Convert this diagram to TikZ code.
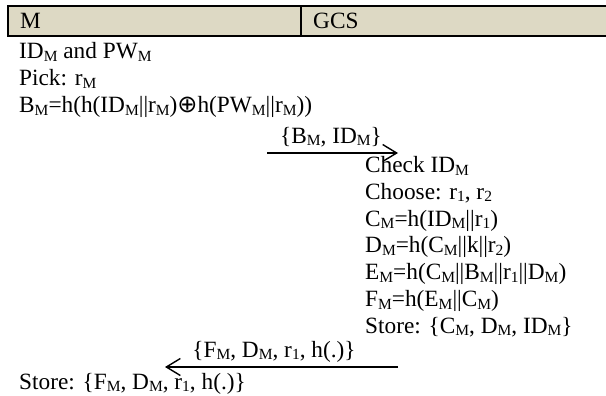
\documentclass[tikz,border=0pt]{standalone}
\usepackage{fontspec}
\setmainfont{Liberation Serif}
\newfontfamily\symfont{DejaVu Sans}
\usetikzlibrary{arrows.meta}
\newcommand{\sbs}[1]{\raisebox{-0.11em}{\fontsize{15.5}{15.5}\selectfont #1}}
\newcommand{\xor}{{\symfont\fontsize{24}{24}\selectfont ⊕}}
\begin{document}
\begin{tikzpicture}[x=1pt,y=-1pt,
  txt/.style={anchor=base west,inner sep=0pt,font=\fontsize{23.3}{26}\selectfont},
  msg/.style={anchor=base,inner sep=0pt,font=\fontsize{23.3}{26}\selectfont},
  arr/.style={line width=1.4pt,-{Straight Barb[length=14pt,width=17pt,line width=1.4pt]}}]
\useasboundingbox (0,0) rectangle (606,396);
\fill[fill={rgb,255:red,221;green,217;blue,196}] (7.5,6) rectangle (610,36);
\draw[line width=2pt] (610,6) -- (7.5,6) -- (7.5,36) -- (610,36);
\draw[line width=1.5pt] (301,6) -- (301,36);
\node[txt] (hM) at (20,28.5) {M};
\node[txt] (hG) at (313,28.5) {GCS};
% left column
\node[txt] (l1) at (19,59) {ID\sbs{M} and PW\sbs{M}};
\node[txt] (l2) at (19,85.8) {Pick: r\sbs{M}};
\node[txt] (l3) at (19,112.6) {B\sbs{M}=h(h(ID\sbs{M}||r\sbs{M})\xor h(PW\sbs{M}||r\sbs{M}))};
% first message
\coordinate (a1s) at (267,153);
\coordinate (a1e) at (398,153);
\draw[arr] (a1s) -- (a1e);
\node[msg] (m1) at (331,143) {\{B\sbs{M}, ID\sbs{M}\}};
% right column
\node[txt] (r1) at (365,172.5) {Check ID\sbs{M}};
\node[txt] (r2) at (365,199.3) {Choose: r\sbs{1}, r\sbs{2}};
\node[txt] (r3) at (365,226.1) {C\sbs{M}=h(ID\sbs{M}||r\sbs{1})};
\node[txt] (r4) at (365,252.9) {D\sbs{M}=h(C\sbs{M}||k||r\sbs{2})};
\node[txt] (r5) at (365,279.7) {E\sbs{M}=h(C\sbs{M}||B\sbs{M}||r\sbs{1}||D\sbs{M})};
\node[txt] (r6) at (365,306.5) {F\sbs{M}=h(E\sbs{M}||C\sbs{M})};
\node[txt] (r7) at (365,333.3) {Store: \{C\sbs{M}, D\sbs{M}, ID\sbs{M}\}};
% second message
\coordinate (a2s) at (398,367);
\coordinate (a2e) at (165,367);
\draw[arr] (a2s) -- (a2e);
\node[msg] (m2) at (274,357) {\{F\sbs{M}, D\sbs{M}, r\sbs{1}, h(.)\}};
\node[txt] (l4) at (19,389) {Store: \{F\sbs{M}, D\sbs{M}, r\sbs{1}, h(.)\}};
\end{tikzpicture}
\end{document}
